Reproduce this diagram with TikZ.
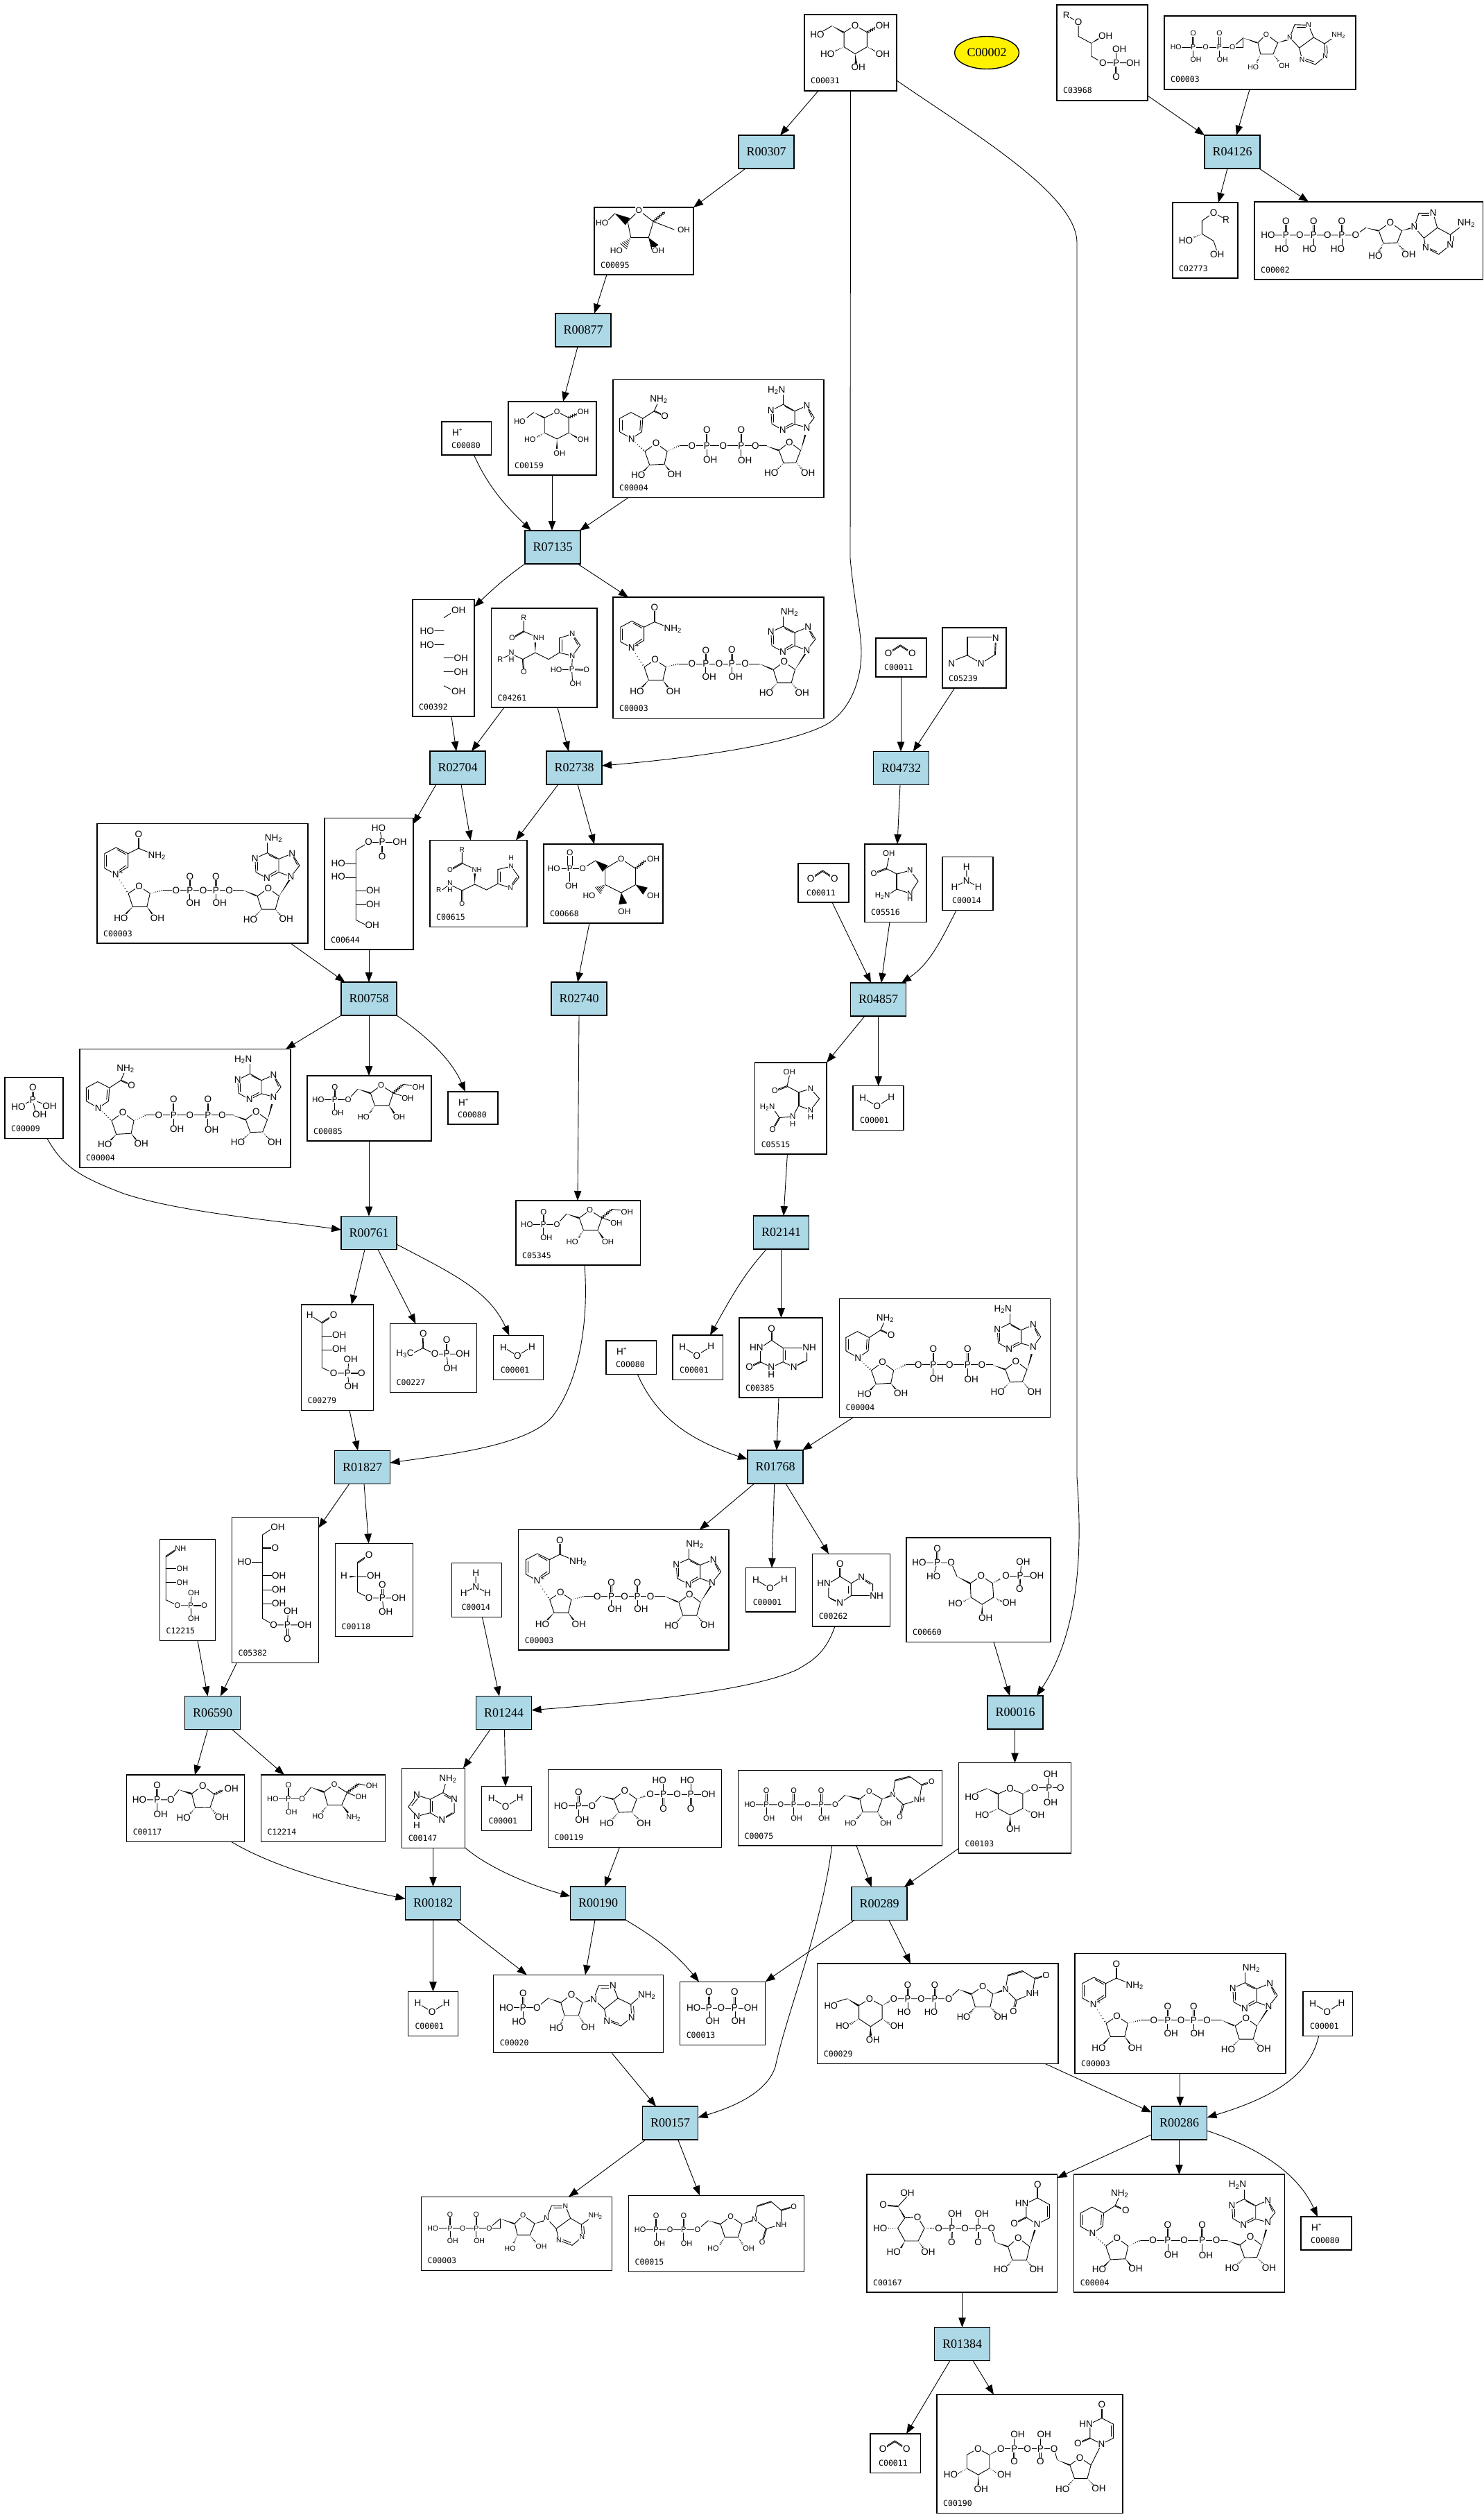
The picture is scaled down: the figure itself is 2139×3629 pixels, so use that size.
\documentclass[tikz,border=0pt]{standalone}
\usepackage{fontspec}
\setmainfont{Liberation Serif}
\newfontfamily\molf{Liberation Sans}
\newfontfamily\lblf{DejaVu Sans Mono}
\usetikzlibrary{calc,arrows.meta,shapes.geometric,decorations.pathmorphing}
\newcount\atc
\def\curfs{13.5}
\tikzset{
 bd/.style={line width=0.9pt,line cap=round},
 hb/.style={line width=0.8pt},
 atm/.style={font=\molf\fontsize{\curfs}{\curfs}\selectfont,fill=white,inner sep=0.6pt},
 plm/.style={font=\molf\fontsize{8}{8}\selectfont,inner sep=0pt},
 cbox/.style={draw,line width=1.4pt,fill=white,inner sep=0pt,outer sep=0pt},
 rbox/.style={draw,line width=1.4pt,fill={rgb,255:red,173;green,216;blue,230},minimum width=80pt,minimum height=48pt,inner sep=0pt,outer sep=0pt,font=\fontsize{18}{18}\selectfont},
 clab/.style={font=\lblf\fontsize{11.5}{11.5}\selectfont,anchor=base west,inner sep=0pt},
 cedge/.style={line width=0.9pt,-{Triangle[length=14pt,width=10.5pt]}},
}
\newcommand\AT[2]{\global\advance\atc by 1 \node[atm] (m\the\atc) at (#1) {#2};}
\newcommand\AP[1]{\global\advance\atc by 1 \node[plm] (m\the\atc) at (#1) {+};}
\newcommand\BD[1]{\draw[bd] #1;}
\newcommand\wdg[2]{\fill (#1) -- ($(#2)!2.6pt!90:(#1)$) -- ($(#2)!2.6pt!-90:(#1)$) -- cycle;}
\newcommand\dbl[2]{\draw[bd] ($(#1)!1.5pt!90:(#2)$) -- ($(#2)!1.5pt!-90:(#1)$); \draw[bd] ($(#1)!1.5pt!-90:(#2)$) -- ($(#2)!1.5pt!90:(#1)$);}
\newcommand\hsh[2]{\foreach \hs in {.15,.3,.45,.6,.75,.9,1} {\draw[hb] ($(#1)!\hs!(#2)!{\hs*3pt}!90:(#2)$) -- ($(#1)!\hs!(#2)!{\hs*3pt}!-90:(#2)$);}}
\newcommand\wvy[2]{\draw[bd,decorate,decoration={zigzag,amplitude=1.5pt,segment length=3pt}] (#1) -- (#2);}
\newcommand\mol[7]{\begin{scope}[shift={(#1,#2)},xscale={1/#5},yscale={1/#6},shift={(-#3,-#4)}]#7\end{scope}}
\newcommand\Fs[1]{\def\curfs{#1}}
\newcommand\cpd[7][9]{%
 \node[cbox,minimum width={(#5-#3)*1pt},minimum height={(#6-#4)*1pt}] (#2) at ({(#3+#5)/2},{(#4+#6)/2}) {};
 \node[clab] (#2-l) at ({#3+#1},{#6-10}) {#7};}
\newcommand\rxn[3]{\node[rbox] (#1) at (#2,#3) {#1};}
% molecules that repeat
\newcommand\nadp[2]{\mol{#1}{#2}{637}{892}{2.24}{2.613}{\Fs{13.5}
 \BD{(737,1005)--(737,1055)--(697,1083)--(661,1060)--(661,1005)--(698,982)--cycle}
 \BD{(668,1012)--(668,1053)} \BD{(702,990)--(730,1008)} \BD{(730,1050)--(708,1068)}
 \BD{(737,1005)--(771,985)--(828,1012)} \dbl{771,985}{771,931}
 \hsh{697,1083}{738,1155}
 \BD{(738,1155)--(773,1128)--(808,1155)--(798,1205)--(752,1205)--cycle}
 \wdg{752,1205}{730,1232} \wdg{798,1205}{815,1232}
 \hsh{808,1155}{850,1143} \BD{(850,1143)--(1110,1143)}
 \dbl{937,1143}{937,1092} \dbl{1021,1143}{1021,1091} \BD{(937,1143)--(937,1185)} \BD{(1021,1143)--(1021,1185)}
 \wdg{1110,1143}{1152,1164}
 \BD{(1155,1165)--(1190,1135)--(1225,1165)--(1213,1215)--(1168,1215)--cycle}
 \hsh{1168,1215}{1148,1240} \hsh{1213,1215}{1232,1240}
 \wdg{1225,1165}{1262,1098}
 \BD{(1224,1025)--(1224,1075)--(1186,1098)--(1150,1075)--(1147,1023)--(1187,1002)--cycle}
 \BD{(1224,1025)--(1267,1005)--(1291,1050)--(1263,1092)--(1224,1075)}
 \BD{(1187,1002)--(1187,955)} \BD{(1192,1010)--(1218,1025)} \BD{(1216,1070)--(1190,1088)} \BD{(1272,1020)--(1284,1048)} \BD{(1155,1032)--(1155,1068)}
 \AT{771,931}{O}\AT{830,1012}{NH\textsubscript{2}}\AT{697,1083}{N}\AP{716,1076}\AT{773,1128}{O}
 \AT{714,1247}{HO}\AT{832,1247}{OH}\AT{892,1143}{O}\AT{937,1143}{P}\AT{980,1143}{O}\AT{1021,1143}{P}\AT{1064,1143}{O}
 \AT{937,1092}{O}\AT{1021,1091}{O}\AT{948,1192}{OH}\AT{1033,1192}{OH}
 \AT{1190,1135}{O}\AT{1132,1253}{HO}\AT{1248,1251}{OH}\AT{1263,1092}{N}\AT{1267,1005}{N}\AT{1186,1098}{N}\AT{1147,1023}{N}\AT{1207,948}{NH\textsubscript{2}}
}}
\newcommand\nadh[2]{\mol{#1}{#2}{637}{72}{2.24}{2.613}{\Fs{13.5}
 \BD{(733,218)--(730,268)--(697,294)--(658,268)--(658,218)--(695,195)--cycle}
 \BD{(666,225)--(666,262)} \BD{(726,225)--(724,262)}
 \BD{(733,218)--(770,190)--(785,150)} \dbl{770,190}{804,208}
 \hsh{697,294}{740,342}
 \BD{(740,342)--(776,311)--(812,342)--(803,390)--(755,393)--cycle}
 \wdg{755,393}{735,418} \wdg{803,390}{820,415}
 \hsh{812,342}{852,320} \BD{(852,320)--(1133,320)}
 \dbl{940,320}{940,262} \dbl{1051,320}{1051,262} \BD{(940,320)--(940,362)} \BD{(1051,320)--(1051,362)}
 \wdg{1133,322}{1172,338}
 \BD{(1173,338)--(1207,307)--(1243,338)--(1228,384)--(1188,386)--cycle}
 \hsh{1188,386}{1165,412} \hsh{1228,384}{1250,412}
 \wdg{1244,338}{1258,280}
 \BD{(1224,190)--(1224,240)--(1185,262)--(1150,238)--(1147,188)--(1187,165)--cycle}
 \BD{(1224,190)--(1263,170)--(1287,215)--(1263,252)--(1224,240)}
 \BD{(1187,165)--(1187,125)} \BD{(1192,172)--(1218,188)} \BD{(1216,236)--(1190,252)} \BD{(1268,185)--(1279,212)} \BD{(1155,195)--(1155,232)}
 \AT{804,208}{O}\AT{785,145}{NH\textsubscript{2}}\AT{697,294}{N}\AT{776,311}{O}
 \AT{718,430}{HO}\AT{836,427}{OH}\AT{892,320}{O}\AT{940,320}{P}\AT{993,320}{O}\AT{1051,320}{P}\AT{1097,320}{O}
 \AT{940,262}{O}\AT{1051,262}{O}\AT{951,374}{OH}\AT{1063,376}{OH}
 \AT{1207,307}{O}\AT{1148,424}{HO}\AT{1267,424}{OH}\AT{1263,252}{N}\AT{1263,170}{N}\AT{1185,262}{N}\AT{1147,188}{N}\AT{1165,112}{H\textsubscript{2}N}
}}
\newcommand\adpm[2]{\mol{#1}{#2}{120}{1102}{2.09}{3}{\Fs{10.5}
 \BD{(170,1238)--(358,1238)--(358,1197)} \BD{(325,1238)--(358,1197)}
 \dbl{207,1238}{207,1178} \dbl{286,1238}{286,1178} \BD{(207,1238)--(207,1280)} \BD{(286,1238)--(286,1280)}
 \wdg{358,1197}{400,1218}
 \BD{(402,1218)--(427,1182)--(462,1218)--(448,1267)--(410,1267)--cycle}
 \hsh{410,1267}{398,1305} \hsh{448,1267}{465,1300} \wdg{462,1218}{492,1205}
 \BD{(498,1195)--(513,1140)--(555,1142)--(570,1195)--(603,1222)--(605,1276)--(575,1312)--(535,1290)--(527,1240)--(498,1195)}
 \BD{(527,1240)--(570,1195)} \BD{(603,1222)--(630,1195)} \BD{(520,1150)--(545,1150)} \BD{(610,1230)--(612,1268)} \BD{(570,1300)--(548,1288)}
 \AT{155,1238}{HO}\AT{207,1238}{P}\AT{245,1238}{O}\AT{286,1238}{P}\AT{325,1238}{O}\AT{207,1178}{O}\AT{286,1178}{O}\AT{215,1292}{OH}\AT{295,1292}{OH}
 \AT{427,1182}{O}\AT{388,1325}{HO}\AT{482,1317}{OH}\AT{498,1195}{N}\AT{555,1142}{N}\AT{605,1276}{N}\AT{535,1290}{N}\AT{645,1185}{NH\textsubscript{2}}
}}
\newcommand\hoh[2]{\mol{#1}{#2}{1146}{281}{2.24}{2.24}{\Fs{13.5}
 \BD{(1178,319)--(1224,347)--(1270,317)} \AT{1178,319}{H}\AT{1224,347}{O}\AT{1270,317}{H}}}
\newcommand\nhhh[2]{\mol{#1}{#2}{1011}{1016}{2.24}{2.24}{\Fs{13.5}
 \BD{(1089,1048)--(1089,1092)--(1050,1113)} \BD{(1089,1092)--(1127,1113)} \AT{1089,1048}{H}\AT{1089,1092}{N}\AT{1050,1113}{H}\AT{1127,1113}{H}}}
\newcommand\cotwo[2]{\mol{#1}{#2}{490}{79}{3}{1.96}{\Fs{13.5}
 \dbl{544,122}{596,100} \dbl{596,100}{647,122} \AT{544,122}{O}\AT{647,122}{O}}}
\newcommand\hplus[2]{\mol{#1}{#2}{82}{231}{2.24}{2.613}{\Fs{13.5}
 \AT{127,272}{H} \AP{143,262}}}
\newcommand\frup[2]{\mol{#1}{#2}{869}{899}{1.96}{2.24}{\Fs{11.5}
 \BD{(918,976)--(985,976)--(1012,942)} \dbl{947,976}{947,935} \BD{(947,976)--(947,1010)}
 \wdg{1012,942}{1047,955}
 \BD{(1048,955)--(1078,930)--(1112,955)--(1100,995)--(1060,995)--cycle}
 \hsh{1060,995}{1045,1020} \wdg{1100,995}{1115,1020} \wvy{1112,955}{1140,927} \BD{(1140,927)--(1165,930)} \BD{(1112,955)--(1140,965)}
 \AT{900,976}{HO}\AT{947,976}{P}\AT{985,976}{O}\AT{947,935}{O}\AT{955,1020}{OH}\AT{1078,930}{O}\AT{1183,935}{OH}\AT{1153,971}{OH}\AT{1028,1033}{HO}\AT{1129,1033}{OH}
}}
\begin{document}
\begin{tikzpicture}[x=1pt,y=-1pt]
\useasboundingbox (0,0) rectangle (2139,3629);
\fill[white] (0,0) rectangle (2139,3629);
% compound boxes
\cpd{C00031}{1160}{21}{1293}{131}{C00031}
\node[draw,ellipse,line width=1.4pt,fill=yellow,minimum width=93pt,minimum height=47pt,inner sep=0pt,font=\fontsize{18}{18}\selectfont] (C00002e) at (1423,76) {C00002};
\cpd{C03968}{1524}{7}{1655}{145}{C03968}
\cpd{ADPt}{1679}{23}{1955}{129}{C00003}
\cpd{C02773}{1691}{292}{1785}{401}{C02773}
\cpd{C00002b}{1809}{291}{2138.5}{403}{C00002}
\cpd{C00095}{857}{299}{1000}{396}{C00095}
\cpd[14]{C00080a}{637}{608}{708.5}{656}{C00080}
\cpd{C00159}{733}{579}{860}{685}{C00159}
\cpd{C00004a}{884}{547.5}{1188}{717.5}{C00004}
\cpd{C00392}{595}{864.4}{684}{1033}{C00392}
\cpd{C04261}{708.5}{877}{861}{1020}{C04261}
\cpd{C00003a}{884}{861}{1188}{1035.5}{C00003}
\cpd[12]{C00011a}{1263}{920}{1336}{976}{C00011}
\cpd{C05239}{1359}{905}{1451}{992}{C05239}
\cpd{C00644}{468}{1179.5}{596}{1369}{C00644}
\cpd{C00615}{620}{1211.6}{760}{1336.6}{C00615}
\cpd{C00668}{784}{1217}{956}{1331}{C00668}
\cpd{C05516}{1247}{1217}{1336}{1329.5}{C05516}
\cpd[12]{C00011b}{1151}{1245}{1224}{1301}{C00011}
\cpd[14]{C00014a}{1359}{1235.6}{1432}{1312.6}{C00014}
\cpd{C00003b}{140}{1187.5}{444}{1360}{C00003}
\cpd{C00004b}{115}{1512.5}{419}{1683.5}{C00004}
\cpd{C00085}{443}{1551}{622}{1645}{C00085}
\cpd[14]{C00080b}{646}{1574}{718}{1621}{C00080}
\cpd{C00009}{7}{1553.6}{91}{1641.5}{C00009}
\cpd{C05515}{1088.6}{1532}{1192}{1664}{C05515}
\cpd[10]{C00001a}{1230}{1565.7}{1303}{1629.5}{C00001}
\cpd{C05345}{744}{1731}{923.6}{1824}{C05345}
\cpd{C00279}{434.4}{1881}{538.4}{2033.5}{C00279}
\cpd{C00227}{562.5}{1908.5}{687.5}{2007.6}{C00227}
\cpd[10]{C00001b}{711.6}{1925.4}{783.5}{1989.7}{C00001}
\cpd[10]{C00001c}{970}{1925}{1042.6}{1989.5}{C00001}
\cpd{C00385}{1066}{1900}{1186}{2015}{C00385}
\cpd[14]{C00080c}{874}{1933}{946.6}{1981.5}{C00080}
\cpd{C00004c}{1210.5}{1872.6}{1514.5}{2043.6}{C00004}
\cpd{C12215}{230.4}{2219.6}{310.7}{2365.6}{C12215}
\cpd{C05382}{334.4}{2187.5}{459.4}{2397.3}{C05382}
\cpd{C00118}{483.5}{2225.4}{595.5}{2359.4}{C00118}
\cpd[14]{C00014b}{651.3}{2253.6}{723.7}{2331.7}{C00014}
\cpd{C00003c}{747.6}{2205.5}{1051}{2379}{C00003}
\cpd[10]{C00001d}{1075.6}{2260.5}{1147.5}{2324}{C00001}
\cpd{C00262}{1171.6}{2240.4}{1283.7}{2344.8}{C00262}
\cpd{C00660}{1307}{2217}{1515}{2367.4}{C00660}
\cpd{C00117}{182.6}{2559}{352.6}{2655.5}{C00117}
\cpd{C12214}{376.5}{2559}{555.6}{2655.5}{C12214}
\cpd{C00147}{579.6}{2549.4}{670.4}{2664.7}{C00147}
\cpd[10]{C00001e}{694.4}{2575.5}{766.3}{2639.5}{C00001}
\cpd{C00119}{790.5}{2551.5}{1040.4}{2663.6}{C00119}
\cpd{C00075}{1064.5}{2552.6}{1358.4}{2661}{C00075}
\cpd{C00103}{1382.5}{2541.5}{1544.4}{2672}{C00103}
\cpd[10]{C00001f}{588.3}{2871.3}{660.7}{2935.6}{C00001}
\cpd{C00020}{711.7}{2847.3}{956.7}{2959.3}{C00020}
\cpd{C00013}{980.6}{2857.3}{1103.6}{2948.3}{C00013}
\cpd{C00029}{1178.7}{2831}{1525.8}{2975.4}{C00029}
\cpd{C00003d}{1550}{2816.5}{1854}{2989.7}{C00003}
\cpd[10]{C00001g}{1879}{2871.4}{1950.7}{2935.3}{C00001}
\cpd{ADPb}{607.4}{3167.3}{882.5}{3273.3}{C00003}
\cpd{C00015}{906.5}{3165.3}{1159.6}{3275.3}{C00015}
\cpd{C00167}{1250}{3135}{1524.5}{3305}{C00167}
\cpd{C00004d}{1548.7}{3135}{1852.7}{3305}{C00004}
\cpd[14]{C00080d}{1876}{3196}{1949}{3244}{C00080}
\cpd[12]{C00011c}{1255}{3509}{1327.7}{3565.5}{C00011}
\cpd{C00190}{1351}{3452.5}{1619}{3623.5}{C00190}
% reactions
\rxn{R00307}{1105}{219}\rxn{R04126}{1777}{219}\rxn{R00877}{841}{476}\rxn{R07135}{797}{789}
\rxn{R02704}{660}{1107}\rxn{R02738}{828}{1107}\rxn{R04732}{1299.5}{1107.5}
\rxn{R00758}{532}{1440}\rxn{R02740}{835}{1440}\rxn{R04857}{1266.5}{1441}
\rxn{R00761}{532}{1777.5}\rxn{R02141}{1126.5}{1777}\rxn{R01827}{522.5}{2115.5}\rxn{R01768}{1118}{2115}
\rxn{R06590}{306.5}{2469.5}\rxn{R01244}{726.5}{2469.5}\rxn{R00016}{1464}{2469}
\rxn{R00182}{624.5}{2744}\rxn{R00190}{862.5}{2744}\rxn{R00289}{1268}{2744.5}
\rxn{R00157}{966.5}{3061}\rxn{R00286}{1700.5}{3061}\rxn{R01384}{1387.5}{3379.5}
% repeated molecules
\nadp{884}{861}\nadp{140}{1187.5}\nadp{747.6}{2205.5}\nadp{1550}{2816.5}
\nadh{884}{547.5}\nadh{115}{1512.5}\nadh{1210.5}{1872.6}\nadh{1548.7}{3135}
\adpm{1679}{23}\adpm{607.4}{3167.3}
\hoh{1230}{1565.7}\hoh{711.6}{1925.4}\hoh{970}{1925}\hoh{1075.6}{2260.5}\hoh{694.4}{2575.5}\hoh{588.3}{2871.3}\hoh{1879}{2871.4}
\nhhh{1359}{1235.6}\nhhh{651.3}{2253.6}
\cotwo{1263}{920}\cotwo{1151}{1245}\cotwo{1255}{3509}
\hplus{637}{608}\hplus{646}{1574}\hplus{874}{1933}\hplus{1876}{3196}
\frup{443}{1551}\frup{744}{1731}
% zoom frame 1
\mol{1100}{0}{0}{0}{1.503}{3}{\Fs{13.5}
 % C00031
 \wdg{150,112}{175,140}\BD{(130,135)--(150,112)}
 \BD{(176,140)--(200,110)--(226,140)--(226,203)--(200,233)--(176,203)--cycle}
 \wvy{226,140}{245,120}\hsh{176,203}{155,222}\hsh{226,203}{245,222}\wdg{200,233}{202,275}
 \AT{118,150}{HO}\AT{200,110}{O}\AT{260,112}{OH}\AT{140,233}{HO}\AT{260,233}{OH}\AT{207,292}{OH}
 % C03968
 \BD{(658,67)--(684,95)--(684,157)--(712,187)--(712,243)--(737,272)--(803,272)}
 \wdg{712,187}{730,165}\dbl{766,272}{766,332}\BD{(766,272)--(766,225)}
 \AT{658,67}{R}\AT{684,95}{O}\AT{743,155}{OH}\AT{737,272}{O}\AT{766,272}{P}\AT{803,272}{OH}\AT{773,213}{OH}\AT{766,332}{O}
 % C02773
 \BD{(1004,950)--(977,920)--(952,955)--(952,1012)--(977,1042)--(985,1090)}
 \hsh{952,1012}{930,1030}
 \AT{977,920}{O}\AT{1004,950}{R}\AT{917,1040}{HO}\AT{985,1100}{OH}
 % C00002
 \BD{(1095,1017)--(1285,1017)--(1307,985)}\dbl{1134,1017}{1134,957}\dbl{1194,1017}{1194,957}\dbl{1255,1017}{1255,957}
 \BD{(1134,1017)--(1134,1060)}\BD{(1194,1017)--(1194,1060)}\BD{(1255,1017)--(1255,1060)}
 \wdg{1307,985}{1334,998}
 \BD{(1335,998)--(1360,962)--(1385,998)--(1375,1050)--(1345,1052)--cycle}
 \hsh{1345,1052}{1335,1090}\hsh{1375,1050}{1390,1085}\wdg{1385,998}{1408,985}
 \BD{(1412,982)--(1422,922)--(1453,922)--(1462,985)--(1490,1015)--(1490,1060)--(1465,1100)--(1437,1072)--(1433,1030)--(1412,982)}
 \BD{(1433,1030)--(1462,985)}\BD{(1490,1015)--(1510,985)}\BD{(1428,932)--(1446,932)}\BD{(1497,1022)--(1497,1052)}\BD{(1460,1088)--(1445,1075)}
 \AT{1095,1017}{HO}\AT{1134,1017}{P}\AT{1164,1017}{O}\AT{1194,1017}{P}\AT{1224,1017}{O}\AT{1255,1017}{P}\AT{1285,1017}{O}
 \AT{1134,957}{O}\AT{1194,957}{O}\AT{1255,957}{O}\AT{1125,1077}{HO}\AT{1185,1077}{HO}\AT{1246,1077}{HO}
 \AT{1360,962}{O}\AT{1328,1107}{HO}\AT{1400,1100}{OH}\AT{1412,982}{N}\AT{1453,922}{N}\AT{1490,1060}{N}\AT{1437,1072}{N}\AT{1525,965}{NH\textsubscript{2}}
}
% C00095 and C00668, coordinates of the shrunk view
\mol{0}{0}{0}{0}{0.432}{0.432}{\Fs{12}
 \BD{(378,138)--(383,133)}\wdg{383,133}{391,138}
 \BD{(391,138)--(398,131)--(407,138)--(404,148)--(393,148)--cycle}
 \wvy{407,138}{414,132}\BD{(407,138)--(420,143)}\hsh{393,148}{388,154}\wdg{404,148}{408,154}
 \AT{375,139}{HO}\AT{398,131}{O}\AT{418,132}{}\AT{426,143}{OH}\AT{384,156}{HO}\AT{410,156}{OH}
 \BD{(350,541)--(363,541)--(371,536)}\dbl{355,541}{355,532}\BD{(355,541)--(355,549)}
 \wdg{371,536}{377,541}
 \BD{(377,541)--(387,535)--(396,541)--(396,551)--(387,556)--(377,551)--cycle}
 \wvy{396,541}{402,536}\hsh{377,551}{372,555}\wdg{396,551}{402,555}\wdg{387,556}{388,563}
 \AT{345,541}{HO}\AT{355,541}{P}\AT{363,541}{O}\AT{355,531}{O}\AT{356,552}{OH}\AT{387,535}{O}\AT{407,535}{OH}\AT{367,558}{HO}\AT{407,558}{OH}\AT{389,568}{OH}
}
% zoom frame 2
\mol{600}{520}{0}{0}{2.24}{2.613}{\Fs{11}
 % C00159
 \BD{(358,215)--(380,195)}\wdg{380,195}{414,215}
 \BD{(415,215)--(455,192)--(493,215)--(493,272)--(455,295)--(415,272)--cycle}
 \wvy{493,215}{520,200}\hsh{415,272}{390,288}\wdg{493,272}{520,290}\wdg{455,295}{455,332}
 \AT{335,228}{HO}\AT{455,192}{O}\AT{540,192}{OH}\AT{368,297}{HO}\AT{540,297}{OH}\AT{463,349}{OH}
 % C04261
 \BD{(348,968)--(348,1020)--(396,1045)}\dbl{348,1020}{310,1045}\wdg{385,1100}{385,1062}
 \BD{(385,1100)--(345,1125)--(308,1105)}\dbl{345,1125}{348,1173}\BD{(385,1100)--(428,1125)--(463,1100)--(463,1045)--(505,1030)--(530,1072)--(505,1112)--(463,1100)}
 \BD{(272,1125)--(300,1110)}\BD{(505,1112)--(503,1163)--(453,1165)}\dbl{503,1163}{550,1165}\BD{(503,1163)--(505,1205)}\BD{(471,1052)--(471,1095)}\BD{(510,1045)--(522,1070)}
 \AT{348,968}{R}\AT{310,1045}{O}\AT{396,1045}{NH}\AT{308,1098}{N}\AT{308,1125}{H}\AT{272,1125}{R}\AT{348,1173}{O}\AT{505,1030}{N}\AT{505,1112}{N}\AT{503,1163}{P}\AT{453,1165}{HO}\AT{550,1165}{O}\AT{515,1216}{OH}
 % C00392
 \Fs{13.5}
 \BD{(90,968)--(112,952)}\BD{(60,1018)--(90,1018)}\BD{(60,1070)--(90,1070)}\BD{(90,1120)--(120,1120)}\BD{(90,1172)--(120,1172)}\BD{(90,1225)--(115,1240)}
 \AT{137,941}{OH}\AT{35,1018}{HO}\AT{35,1070}{HO}\AT{145,1120}{OH}\AT{145,1172}{OH}\AT{137,1247}{OH}
}
% zoom frame 3
\mol{0}{1150}{0}{0}{1.96}{2.24}{\Fs{13.5}
 % C00644
 \BD{(1042,144)--(1006,170)--(1006,395)--(1035,412)}\BD{(1042,144)--(1130,144)}\BD{(1080,144)--(1075,110)}\dbl{1080,144}{1080,189}
 \BD{(975,214)--(1006,214)}\BD{(975,258)--(1006,258)}\BD{(1006,302)--(1035,302)}\BD{(1006,347)--(1035,347)}
 \AT{1070,99}{HO}\AT{1080,144}{P}\AT{1130,144}{OH}\AT{1080,189}{O}\AT{1042,144}{O}\AT{956,212}{HO}\AT{956,256}{HO}\AT{1055,300}{OH}\AT{1055,345}{OH}\AT{1052,412}{OH}
 % C00009
 \dbl{93,977}{93,937}\BD{(52,998)--(93,977)--(140,996)}\BD{(93,977)--(100,1015)}
 \AT{93,937}{O}\AT{93,977}{P}\AT{52,998}{HO}\AT{140,996}{OH}\AT{112,1024}{OH}
 % C00615
 \Fs{10}
 \BD{(1306,167)--(1306,212)--(1348,234)}\dbl{1306,212}{1272,234}\wdg{1342,280}{1342,245}
 \BD{(1342,280)--(1306,300)--(1275,283)}\dbl{1306,300}{1306,343}\BD{(1342,280)--(1375,298)--(1407,278)--(1407,232)--(1445,222)--(1467,257)--(1443,292)--(1407,278)}
 \BD{(1250,298)--(1265,285)}\BD{(1414,240)--(1414,272)}\BD{(1460,258)--(1447,280)}
 \AT{1306,167}{R}\AT{1272,234}{O}\AT{1348,234}{NH}\AT{1272,275}{N}\AT{1272,298}{H}\AT{1240,298}{R}\AT{1306,343}{O}\AT{1445,195}{H}\AT{1445,222}{N}\AT{1443,292}{N}
}
% zoom frame 4
\mol{1200}{3050}{0}{0}{2.24}{2.708}{\Fs{13.5}
 % C00167
 \BD{(243,315)--(213,355)}\dbl{213,355}{165,350}\wdg{213,355}{234,398}
 \BD{(235,400)--(276,397)--(298,440)--(278,490)--(235,490)--(212,440)--cycle}
 \hsh{212,440}{172,441}\wdg{235,490}{222,518}\hsh{278,490}{295,518}\hsh{298,440}{330,441}
 \BD{(344,441)--(515,441)--(527,495)}\BD{(387,441)--(387,398)}\BD{(472,441)--(472,398)}\dbl{387,441}{386,495}\dbl{472,441}{472,495}
 \wdg{527,495}{567,512}
 \BD{(568,512)--(601,478)--(638,512)--(628,565)--(582,565)--cycle}
 \hsh{582,565}{565,590}\hsh{628,565}{645,590}\wdg{638,512}{655,447}
 \BD{(662,425)--(702,400)--(702,348)--(663,322)--(627,344)--(627,398)--(662,425)}\dbl{663,322}{663,271}\dbl{627,398}{588,422}\BD{(695,355)--(695,395)}
 \AT{243,303}{OH}\AT{165,350}{O}\AT{276,397}{O}\AT{155,441}{HO}\AT{199,533}{HO}\AT{310,533}{OH}\AT{344,441}{O}\AT{387,441}{P}\AT{429,441}{O}\AT{472,441}{P}\AT{515,441}{O}\AT{397,385}{OH}\AT{483,385}{OH}\AT{386,495}{O}\AT{472,495}{O}
 \AT{601,478}{O}\AT{545,601}{HO}\AT{660,601}{OH}\AT{662,425}{N}\AT{664,271}{O}\AT{613,344}{HN}\AT{588,422}{O}
 % C00190
 \BD{(471,1301)--(435,1325)--(435,1378)--(472,1403)--(508,1378)--(508,1325)--cycle}
 \hsh{435,1378}{405,1400}\hsh{508,1378}{535,1398}\wdg{472,1403}{472,1445}\hsh{508,1325}{530,1310}
 \BD{(545,1301)--(717,1301)--(727,1345)}\BD{(588,1301)--(588,1258)}\BD{(673,1301)--(673,1258)}\dbl{588,1301}{588,1352}\dbl{673,1301}{673,1352}
 \wdg{727,1345}{767,1365}
 \BD{(768,1365)--(800,1336)--(836,1365)--(824,1418)--(783,1418)--cycle}
 \hsh{783,1418}{762,1445}\hsh{824,1418}{845,1445}\BD{(836,1365)--(870,1283)}
 \BD{(870,1283)--(908,1260)--(908,1205)--(871,1182)--(833,1204)--(833,1260)--(870,1283)}\dbl{871,1182}{871,1130}\dbl{833,1260}{794,1280}\BD{(901,1212)--(901,1253)}
 \AT{471,1301}{O}\AT{383,1403}{HO}\AT{556,1403}{OH}\AT{481,1459}{OH}\AT{545,1301}{O}\AT{588,1301}{P}\AT{631,1301}{O}\AT{673,1301}{P}\AT{717,1301}{O}\AT{599,1246}{OH}\AT{685,1246}{OH}\AT{588,1352}{O}\AT{673,1352}{O}
 \AT{800,1336}{O}\AT{744,1459}{HO}\AT{861,1457}{OH}\AT{870,1283}{N}\AT{871,1130}{O}\AT{820,1204}{HN}\AT{794,1280}{O}
}
% zoom frame 5
\mol{1100}{880}{0}{0}{3}{1.96}{\Fs{13.5}
 % C05239
 \BD{(832,140)--(885,127)}\dbl{885,127}{885,75}\BD{(885,75)--(990,75)}\dbl{1007,92}{1005,125}\BD{(1005,125)--(944,150)--(885,127)}
 \AT{817,150}{N}\AT{944,150}{N}\AT{1007,78}{N}
 \Fs{11.5}
 % C05516
 \BD{(545,700)--(535,730)}\dbl{535,730}{480,743}\BD{(535,730)--(580,745)--(637,735)--(672,765)--(637,800)--(580,788)--(540,805)}\dbl{580,745}{580,788}
 \AT{545,688}{OH}\AT{480,743}{O}\AT{637,735}{N}\AT{637,800}{N}\AT{637,815}{H}\AT{518,806}{H\textsubscript{2}N}
 % C05515
 \BD{(115,1315)--(105,1345)}\dbl{105,1345}{52,1358}\BD{(105,1345)--(155,1362)--(207,1352)--(245,1380)--(207,1412)--(155,1400)--(130,1430)--(72,1434)--(42,1405)}\dbl{155,1362}{155,1400}\dbl{72,1434}{42,1468}
 \AT{115,1304}{OH}\AT{52,1358}{O}\AT{207,1352}{N}\AT{207,1412}{N}\AT{207,1432}{H}\AT{130,1430}{N}\AT{130,1452}{H}\AT{42,1468}{O}\AT{20,1405}{H\textsubscript{2}N}
}
% zoom frame 6
\mol{860}{1640}{0}{0}{2.24}{2.24}{\Fs{13.5}
 % C00385
 \dbl{566,655}{566,617}\BD{(566,655)--(530,679)--(530,725)--(565,742)--(603,725)--(603,680)--(566,655)}\dbl{530,725}{494,741}\BD{(603,680)--(665,680)}\BD{(680,695)--(680,720)--(638,742)--(603,725)}\BD{(610,688)--(610,718)}\BD{(672,722)--(650,735)}
 \AT{566,617}{O}\AT{517,679}{HN}\AT{494,741}{O}\AT{565,742}{N}\AT{565,765}{H}\AT{688,679}{NH}\AT{638,742}{N}
 % C00262
 \dbl{787,1418}{787,1378}\BD{(787,1418)--(750,1441)--(750,1485)--(787,1503)--(823,1480)--(823,1440)--(787,1418)}\BD{(823,1440)--(856,1420)--(893,1443)--(893,1465)}\BD{(823,1480)--(885,1480)}\BD{(757,1490)--(778,1500)}\BD{(815,1450)--(815,1472)}\BD{(862,1428)--(885,1443)}
 \AT{787,1378}{O}\AT{735,1441}{HN}\AT{787,1503}{N}\AT{856,1420}{N}\AT{905,1480}{NH}
 % C00660
 \dbl{1101,1373}{1101,1328}\BD{(1043,1373)--(1146,1373)--(1165,1418)}\BD{(1101,1373)--(1092,1405)}\wdg{1165,1418}{1207,1440}
 \BD{(1208,1440)--(1243,1416)--(1280,1440)--(1283,1485)--(1246,1508)--(1210,1485)--cycle}
 \hsh{1280,1440}{1305,1425}\BD{(1323,1416)--(1423,1416)}\BD{(1369,1416)--(1372,1385)}\dbl{1369,1416}{1367,1458}
 \hsh{1210,1485}{1180,1502}\hsh{1283,1485}{1312,1500}\wdg{1246,1508}{1246,1538}
 \AT{1101,1328}{O}\AT{1101,1373}{P}\AT{1043,1373}{HO}\AT{1146,1373}{O}\AT{1089,1417}{HO}\AT{1243,1416}{O}\AT{1323,1416}{O}\AT{1369,1416}{P}\AT{1379,1371}{OH}\AT{1423,1416}{OH}\AT{1367,1458}{O}\AT{1160,1505}{HO}\AT{1334,1502}{OH}\AT{1257,1551}{OH}
}
% zoom frame 7
\mol{200}{1800}{0}{0}{2.24}{2.24}{\Fs{13.5}
 % C00279
 \BD{(553,215)--(592,240)--(592,385)--(630,403)--(720,403)}\dbl{592,240}{630,215}\BD{(592,283)--(625,283)}\BD{(592,328)--(625,328)}\BD{(675,403)--(678,372)}\BD{(675,403)--(678,432)}\dbl{675,403}{720,403}
 \AT{553,215}{H}\AT{630,215}{O}\AT{648,280}{OH}\AT{648,325}{OH}\AT{630,403}{O}\AT{675,403}{P}\AT{685,359}{OH}\AT{687,445}{OH}\AT{720,403}{O}
 % C00227
 \BD{(880,341)--(918,322)--(957,341)--(1047,341)}\dbl{918,322}{919,276}\dbl{995,341}{995,296}\BD{(995,341)--(998,375)}
 \AT{860,341}{H\textsubscript{3}C}\AT{919,276}{O}\AT{957,341}{O}\AT{995,341}{P}\AT{995,296}{O}\AT{1047,341}{OH}\AT{1007,387}{OH}
 % C05382
 \BD{(430,905)--(400,925)--(400,1195)--(436,1216)--(536,1216)}\dbl{400,968}{430,968}\BD{(365,1013)--(400,1013)}\BD{(400,1057)--(432,1057)}\BD{(400,1102)--(432,1102)}\BD{(400,1147)--(432,1147)}\BD{(480,1216)--(482,1185)}\dbl{480,1216}{480,1261}
 \AT{449,900}{OH}\AT{441,968}{O}\AT{342,1013}{HO}\AT{453,1057}{OH}\AT{453,1102}{OH}\AT{453,1147}{OH}\AT{436,1216}{O}\AT{480,1216}{P}\AT{491,1172}{OH}\AT{536,1216}{OH}\AT{480,1261}{O}
 % C00118
 \dbl{707,1015}{744,990}\BD{(707,1015)--(707,1110)--(744,1129)--(840,1129)}\wdg{707,1060}{682,1060}\BD{(707,1060)--(735,1060)}\dbl{787,1129}{787,1087}\BD{(787,1129)--(790,1160)}
 \AT{744,990}{O}\AT{663,1057}{H}\AT{760,1057}{OH}\AT{744,1129}{O}\AT{787,1129}{P}\AT{787,1087}{O}\AT{840,1129}{OH}\AT{798,1173}{OH}
 % C12215
 \Fs{11}
 \dbl{88,995}{118,975}\BD{(88,995)--(88,1135)--(125,1153)--(212,1153)}\BD{(88,1034)--(122,1034)}\BD{(88,1079)--(122,1079)}\BD{(168,1153)--(170,1125)}\BD{(168,1153)--(170,1183)}\dbl{168,1153}{212,1153}
 \AT{135,970}{NH}\AT{141,1034}{OH}\AT{141,1079}{OH}\AT{125,1153}{O}\AT{168,1153}{P}\AT{178,1113}{OH}\AT{178,1195}{OH}\AT{212,1153}{O}
}
% zoom frame 8
\mol{700}{2150}{0}{0}{1.742}{2.613}{\Fs{13.5}
 % C00103
 \BD{(1235,1135)--(1260,1120)}\wdg{1260,1120}{1287,1140}
 \BD{(1288,1140)--(1318,1120)--(1350,1140)--(1350,1195)--(1318,1220)--(1288,1195)--cycle}
 \hsh{1350,1140}{1368,1125}\BD{(1380,1118)--(1445,1118)}\BD{(1416,1118)--(1416,1078)}\BD{(1416,1118)--(1416,1160)}
 \hsh{1288,1195}{1265,1212}\hsh{1350,1195}{1372,1212}\wdg{1318,1220}{1318,1258}
 \AT{1222,1152}{HO}\AT{1318,1120}{O}\AT{1380,1118}{O}\AT{1416,1118}{P}\AT{1420,1065}{OH}\AT{1445,1118}{O}\AT{1420,1172}{OH}\AT{1248,1220}{HO}\AT{1387,1220}{OH}\AT{1326,1272}{OH}
 % C00119
 \BD{(190,1185)--(268,1185)--(290,1148)}\dbl{234,1185}{234,1133}\BD{(234,1185)--(234,1225)}\wdg{290,1148}{321,1160}
 \BD{(322,1160)--(350,1128)--(380,1160)--(368,1208)--(335,1210)--cycle}
 \hsh{335,1210}{318,1238}\hsh{368,1208}{385,1238}\hsh{380,1160}{402,1148}
 \BD{(414,1142)--(553,1142)}\BD{(447,1142)--(447,1100)}\BD{(516,1142)--(516,1100)}\dbl{447,1142}{447,1195}\dbl{516,1142}{516,1195}
 \AT{234,1133}{O}\AT{234,1185}{P}\AT{190,1185}{HO}\AT{243,1237}{OH}\AT{268,1185}{O}\AT{350,1128}{O}\AT{305,1250}{HO}\AT{398,1250}{OH}\AT{414,1142}{O}\AT{447,1142}{P}\AT{482,1142}{O}\AT{516,1142}{P}\AT{560,1142}{OH}\AT{437,1088}{HO}\AT{507,1088}{HO}\AT{447,1195}{O}\AT{516,1195}{O}
}
% zoom frame 9
\mol{150}{2480}{0}{0}{1.96}{1.96}{\Fs{13.5}
 % C00147
 \BD{(958,205)--(990,224)--(990,262)--(955,282)--(922,262)--(922,224)--cycle}\BD{(958,205)--(965,180)}\BD{(922,224)--(884,212)--(860,245)--(884,272)--(922,262)}\BD{(928,258)--(928,230)}\BD{(962,212)--(982,224)}\BD{(870,242)--(886,222)}\BD{(984,262)--(962,276)}
 \AT{972,167}{NH\textsubscript{2}}\AT{990,224}{N}\AT{955,282}{N}\AT{884,212}{N}\AT{884,272}{N}\AT{884,297}{H}
 % C00117
 \BD{(100,225)--(189,225)--(212,197)}\dbl{150,225}{150,184}\BD{(150,225)--(150,255)}\wdg{212,197}{247,208}
 \BD{(248,208)--(279,185)--(312,210)--(300,247)--(258,248)--cycle}
 \wvy{312,210}{335,198}\hsh{258,248}{240,268}\hsh{300,247}{318,268}
 \AT{100,225}{HO}\AT{150,225}{P}\AT{150,184}{O}\AT{189,225}{O}\AT{160,267}{OH}\AT{279,185}{O}\AT{360,193}{OH}\AT{225,276}{HO}\AT{333,275}{OH}
 % C12214
 \Fs{11}
 \BD{(477,222)--(560,222)--(585,190)}\dbl{521,222}{521,184}\BD{(521,222)--(521,250)}\wdg{585,190}{621,203}
 \BD{(622,203)--(651,182)--(687,205)--(672,240)--(632,240)--cycle}
 \wvy{687,205}{720,180}\BD{(720,180)--(742,185)}\BD{(687,205)--(712,215)}\hsh{632,240}{615,262}\wdg{672,240}{690,262}
 \AT{477,222}{HO}\AT{521,222}{P}\AT{521,184}{O}\AT{560,222}{O}\AT{530,261}{OH}\AT{651,182}{O}\AT{757,185}{OH}\AT{727,217}{OH}\AT{605,272}{HO}\AT{705,276}{NH\textsubscript{2}}
}
% zoom frame 10
\mol{950}{2500}{0}{0}{1.49}{2.24}{\Fs{11}
 % C00075
 \BD{(196,228)--(379,228)--(400,198)}\dbl{231,228}{231,183}\dbl{290,228}{290,183}\dbl{349,228}{349,183}\BD{(231,228)--(231,260)}\BD{(290,228)--(290,260)}\BD{(349,228)--(349,260)}
 \wdg{400,198}{431,210}\BD{(432,210)--(452,186)--(480,210)--(470,252)--(438,252)--cycle}
 \hsh{438,252}{425,275}\hsh{470,252}{480,275}\wdg{480,210}{498,200}
 \BD{(503,196)--(508,150)}\dbl{508,150}{540,138}\BD{(540,138)--(565,165)--(560,212)--(525,228)--(503,196)}\dbl{565,165}{586,154}\dbl{525,228}{518,268}
 \AT{196,228}{HO}\AT{231,228}{P}\AT{262,228}{O}\AT{290,228}{P}\AT{320,228}{O}\AT{349,228}{P}\AT{379,228}{O}\AT{231,183}{O}\AT{290,183}{O}\AT{349,183}{O}\AT{237,272}{OH}\AT{296,272}{OH}\AT{355,272}{OH}
 \AT{452,186}{O}\AT{412,288}{HO}\AT{488,288}{OH}\AT{503,196}{N}\AT{586,154}{O}\AT{560,212}{NH}\AT{518,268}{O}
 % C00013
 \Fs{13.5}
 \BD{(75,885)--(198,885)}\BD{(108,855)--(108,835)}\BD{(110,885)--(110,915)}\BD{(165,885)--(165,915)}\dbl{108,885}{108,850}\dbl{163,885}{163,850}
 \AT{75,885}{HO}\AT{108,885}{P}\AT{134,885}{O}\AT{163,885}{P}\AT{198,885}{OH}\AT{108,833}{O}\AT{163,833}{O}\AT{116,928}{OH}\AT{171,928}{OH}
 % C00029
 \Fs{13}
 \BD{(382,865)--(405,855)}\wdg{405,855}{429,877}
 \BD{(430,877)--(453,855)--(480,877)--(480,920)--(455,945)--(430,920)--cycle}
 \hsh{480,877}{498,862}\hsh{430,920}{410,938}\hsh{480,920}{498,938}\wdg{455,945}{455,975}
 \BD{(505,855)--(623,855)--(645,825)}\dbl{535,855}{535,810}\dbl{593,855}{593,810}\BD{(535,855)--(535,888)}\BD{(593,855)--(593,888)}
 \wdg{645,825}{671,840}\BD{(672,840)--(696,815)--(718,840)--(712,882)--(680,882)--cycle}
 \hsh{680,882}{668,902}\hsh{712,882}{725,902}\wdg{718,840}{740,828}
 \BD{(745,825)--(750,780)}\dbl{750,780}{782,766}\BD{(782,766)--(808,790)--(803,838)--(768,860)--(745,825)}\dbl{808,790}{832,780}\dbl{768,860}{762,895}
 \AT{370,877}{HO}\AT{453,855}{O}\AT{395,943}{HO}\AT{512,943}{OH}\AT{460,988}{OH}\AT{505,855}{O}\AT{535,855}{P}\AT{564,855}{O}\AT{593,855}{P}\AT{623,855}{O}\AT{535,810}{O}\AT{593,810}{O}\AT{527,899}{HO}\AT{585,899}{HO}
 \AT{696,815}{O}\AT{655,914}{HO}\AT{735,914}{OH}\AT{745,825}{N}\AT{832,780}{O}\AT{803,838}{NH}\AT{762,895}{O}
}
% zoom frame 11
\mol{550}{2800}{0}{0}{2.09}{3}{\Fs{13.5}
 % C00020
 \BD{(377,283)--(469,283)--(503,243)}\dbl{427,283}{427,222}\BD{(427,283)--(427,330)}\wdg{503,243}{540,262}
 \BD{(541,262)--(573,226)--(606,262)--(594,318)--(552,318)--cycle}
 \hsh{552,318}{540,355}\hsh{594,318}{610,350}\wdg{606,262}{635,250}
 \BD{(640,247)--(655,188)--(698,188)--(713,243)--(752,270)--(754,325)--(722,363)--(680,340)--(672,290)--(640,247)}
 \BD{(672,290)--(713,243)}\BD{(752,270)--(778,238)}\BD{(662,198)--(688,198)}\BD{(760,278)--(762,318)}\BD{(715,352)--(692,340)}
 \AT{427,222}{O}\AT{427,283}{P}\AT{377,283}{HO}\AT{469,283}{O}\AT{415,343}{HO}\AT{573,226}{O}\AT{528,372}{HO}\AT{623,367}{OH}\AT{640,247}{N}\AT{698,188}{N}\AT{754,325}{N}\AT{680,340}{N}\AT{800,230}{NH\textsubscript{2}}
 % C00015
 \Fs{11}
 \BD{(780,1244)--(953,1244)--(985,1205)}\dbl{828,1244}{828,1184}\dbl{911,1244}{911,1184}\BD{(828,1244)--(828,1290)}\BD{(911,1244)--(911,1290)}
 \wdg{985,1205}{1021,1220}\BD{(1022,1220)--(1053,1187)--(1087,1220)--(1075,1276)--(1035,1276)--cycle}
 \hsh{1035,1276}{1020,1310}\hsh{1075,1276}{1090,1310}\wdg{1087,1220}{1118,1205}
 \BD{(1125,1200)--(1133,1142)}\dbl{1133,1142}{1175,1123}\BD{(1175,1123)--(1205,1160)--(1205,1222)--(1160,1240)--(1125,1200)}\dbl{1205,1160}{1243,1144}\dbl{1160,1240}{1148,1297}
 \AT{780,1244}{HO}\AT{828,1244}{P}\AT{870,1244}{O}\AT{911,1244}{P}\AT{953,1244}{O}\AT{828,1184}{O}\AT{911,1184}{O}\AT{838,1304}{OH}\AT{920,1304}{OH}
 \AT{1053,1187}{O}\AT{1000,1325}{HO}\AT{1107,1325}{OH}\AT{1125,1200}{N}\AT{1243,1144}{O}\AT{1205,1222}{NH}\AT{1148,1297}{O}
}
% connectors
\draw[cedge] (1180,0 |- C00031.south) -- (1125,0 |- R00307.north);
\draw[cedge] (C00031.south) -- (1226,805) .. controls (1232,870) and (1242,910) .. (1242,940) .. controls (1242,990) and (1220,1030) .. (1189,1046) .. controls (1120,1080) and (950,1097) .. (R02738.east |- 0,1104);
\draw[cedge] (C00031.east |- 0,116) .. controls (1400,190) and (1553,280) .. (1553,350) -- (1553,2130) .. controls (1558,2200) and (1565,2340) .. (1495,0 |- R00016.north);
\draw[cedge] (C03968.east |- 0,138) -- (R04126.north west);
\draw[cedge] (1802,0 |- ADPt.south) -- (1783,0 |- R04126.north);
\draw[cedge] (1770,0 |- R04126.south) -- (1757,0 |- C02773.north);
\draw[cedge] (1816,0 |- R04126.south) -- (1887,0 |- C00002b.north);
\draw[cedge] (1075,0 |- R00307.south) -- (C00095.north east);
\draw[cedge] (875,0 |- C00095.south) -- (857,0 |- R00877.north);
\draw[cedge] (833,0 |- R00877.south) -- (812,0 |- C00159.north);
\draw[cedge] (683.5,0 |- C00080a.south) .. controls (705,705) and (735,735) .. (766,0 |- R07135.north);
\draw[cedge] (796,0 |- C00159.south) -- (796,0 |- R07135.north);
\draw[cedge] (906,0 |- C00004a.south) -- (836,0 |- R07135.north);
\draw[cedge] (R07135.south west) .. controls (730,832) and (710,850) .. (C00392.east |- 0,875);
\draw[cedge] (833,0 |- R07135.south) -- (906,0 |- C00003a.north);
\draw[cedge] (651,0 |- C00392.south) -- (658,0 |- R02704.north);
\draw[cedge] (727,0 |- C04261.south) -- (680,0 |- R02704.north);
\draw[cedge] (804,0 |- C04261.south) -- (820,0 |- R02738.north);
\draw[cedge] (1299,0 |- C00011a.south) -- (1299,0 |- R04732.north);
\draw[cedge] (1376.7,0 |- C05239.south) -- (1316.7,0 |- R04732.north);
\draw[cedge] (1298,0 |- R04732.south) -- (1294,0 |- C05516.north);
\draw[cedge] (1200,0 |- C00011b.south) -- (1256,0 |- R04857.north);
\draw[cedge] (1283,0 |- C05516.south) -- (1270.7,0 |- R04857.north);
\draw[cedge] (1379,0 |- C00014a.south) .. controls (1355,1360) and (1340,1390) .. (1300,0 |- R04857.north);
\draw[cedge] (1247,0 |- R04857.south) -- (C05515.north east);
\draw[cedge] (1266.7,0 |- R04857.south) -- (1266.7,0 |- C00001a.north);
\draw[cedge] (629,0 |- R02704.south) -- (C00644.east |- 0,1188);
\draw[cedge] (665,0 |- R02704.south) -- (678.6,0 |- C00615.north);
\draw[cedge] (805,0 |- R02738.south) -- (744,0 |- C00615.north);
\draw[cedge] (833,0 |- R02738.south) -- (857,0 |- C00668.north);
\draw[cedge] (850,0 |- C00668.south) -- (833,0 |- R02740.north);
\draw[cedge] (835,0 |- R02740.south) -- (833,0 |- C05345.north);
\draw[cedge] (843,0 |- C05345.south) .. controls (850,1920) and (830,2000) .. (796,2043) .. controls (760,2085) and (640,2098) .. (R01827.east |- 0,2109);
\draw[cedge] (419,0 |- C00003b.south) -- (497.5,0 |- R00758.north);
\draw[cedge] (532,0 |- C00644.south) -- (532,0 |- R00758.north);
\draw[cedge] (R00758.south west) -- (412,0 |- C00004b.north);
\draw[cedge] (532,0 |- R00758.south) -- (532,0 |- C00085.north);
\draw[cedge] (R00758.south east) .. controls (610,1490) and (650,1525) .. (671,0 |- C00080b.north);
\draw[cedge] (68,0 |- C00009.south) .. controls (90,1680) and (110,1695) .. (178.6,1721) .. controls (260,1748) and (400,1760) .. (R00761.west |- 0,1773);
\draw[cedge] (532,0 |- C00085.south) -- (532,0 |- R00761.north);
\draw[cedge] (526,0 |- R00761.south) -- (507,0 |- C00279.north);
\draw[cedge] (545,0 |- R00761.south) -- (599.5,0 |- C00227.north);
\draw[cedge] (R00761.east |- 0,1794) .. controls (650,1835) and (705,1860) .. (734.4,0 |- C00001b.north);
\draw[cedge] (504,0 |- C00279.south) -- (516,0 |- R01827.north);
\draw[cedge] (503.6,0 |- R01827.south) -- (C05382.east |- 0,2203);
\draw[cedge] (525,0 |- R01827.south) -- (531.7,0 |- C00118.north);
\draw[cedge] (285,0 |- C12215.south) -- (299.5,0 |- R06590.north);
\draw[cedge] (341.5,0 |- C05382.south) -- (318,0 |- R06590.north);
\draw[cedge] (695.5,0 |- C00014b.south) -- (720,0 |- R01244.north);
\draw[cedge] (1204,0 |- C00262.south) .. controls (1190,2385) and (1170,2395) .. (1150,2407) .. controls (1080,2440) and (900,2455) .. (R01244.east |- 0,2465.7);
\draw[cedge] (299.5,0 |- R06590.south) -- (281,0 |- C00117.north);
\draw[cedge] (334.7,0 |- R06590.south) -- (410,0 |- C12214.north);
\draw[cedge] (707,0 |- R01244.south) -- (668,0 |- C00147.north);
\draw[cedge] (727.5,0 |- R01244.south) -- (729,0 |- C00001e.north);
\draw[cedge] (333.7,0 |- C00117.south) .. controls (400,2695) and (500,2720) .. (R00182.west |- 0,2737.6);
\draw[cedge] (C00147.east |- 0,2663.7) .. controls (700,2690) and (760,2717) .. (R00190.west |- 0,2734);
\draw[cedge] (624.5,0 |- C00147.south) -- (624.5,0 |- R00182.north);
\draw[cedge] (893.4,0 |- C00119.south) -- (872,0 |- R00190.north);
\draw[cedge] (624.5,0 |- R00182.south) -- (624.5,0 |- C00001f.north);
\draw[cedge] (657.7,0 |- R00182.south) -- (759.7,0 |- C00020.north);
\draw[cedge] (858,0 |- R00190.south) -- (844,0 |- C00020.north);
\draw[cedge] (902,0 |- R00190.south) .. controls (925,2782) and (965,2805) .. (1008,0 |- C00013.north);
\draw[cedge] (1232,0 |- R00289.south) -- (C00013.north east);
\draw[cedge] (1282,0 |- R00289.south) -- (1313,0 |- C00029.north);
\draw[cedge] (1235,0 |- C00075.south) -- (1256.7,0 |- R00289.north);
\draw[cedge] (C00103.west |- 0,2665) -- (1304,0 |- R00289.north);
\draw[cedge] (1199.7,0 |- C00075.south) .. controls (1185,2780) and (1135,2900) .. (1118,2980) .. controls (1105,3020) and (1050,3040) .. (R00157.east |- 0,3053);
\draw[cedge] (881.6,0 |- C00020.south) -- (946,0 |- R00157.north);
\draw[cedge] (931,0 |- R00157.south) -- (820,0 |- ADPb.north);
\draw[cedge] (977.7,0 |- R00157.south) -- (1009,0 |- C00015.north);
\draw[cedge] (1507,0 |- C00029.south) -- (R00286.west |- 0,3045.5);
\draw[cedge] (1701.7,0 |- C00003d.south) -- (1701.7,0 |- R00286.north);
\draw[cedge] (1901.7,0 |- C00001g.south) .. controls (1890,2985) and (1850,3020) .. (R00286.east |- 0,3053);
\draw[cedge] (R00286.west |- 0,3077.7) -- (C00167.east |- 0,3140);
\draw[cedge] (1700.4,0 |- R00286.south) -- (1700.4,0 |- C00004d.north);
\draw[cedge] (R00286.east |- 0,3072) .. controls (1810,3095) and (1870,3130) .. (1900,0 |- C00080d.north);
\draw[cedge] (1387.5,0 |- C00167.south) -- (1387.5,0 |- R01384.north);
\draw[cedge] (1370,0 |- R01384.south) -- (1307,0 |- C00011c.north);
\draw[cedge] (1403,0 |- R01384.south) -- (1433,0 |- C00190.north);
\draw[cedge] (1105.5,0 |- R02141.south) .. controls (1075,1835) and (1060,1860) .. (1024,0 |- C00001c.north);
\draw[cedge] (1126.5,0 |- R02141.south) -- (1126.5,0 |- C00385.north);
\draw[cedge] (1135.4,0 |- C05515.south) -- (1130,0 |- R02141.north);
\draw[cedge] (919.4,0 |- C00080c.south) .. controls (945,2040) and (990,2075) .. (R01768.west |- 0,2104);
\draw[cedge] (1123,0 |- C00385.south) -- (1120,0 |- R01768.north);
\draw[cedge] (1230.5,0 |- C00004c.south) -- (1157,0 |- R01768.north);
\draw[cedge] (1087.7,0 |- R01768.south) -- (1008.7,0 |- C00003c.north);
\draw[cedge] (1116.7,0 |- R01768.south) -- (1113,0 |- C00001d.north);
\draw[cedge] (1133,0 |- R01768.south) -- (1195,0 |- C00262.north);
\draw[cedge] (1433,0 |- C00660.south) -- (1456,0 |- R00016.north);
\draw[cedge] (1463.5,0 |- R00016.south) -- (1463.5,0 |- C00103.north);
\end{tikzpicture}
\end{document}
